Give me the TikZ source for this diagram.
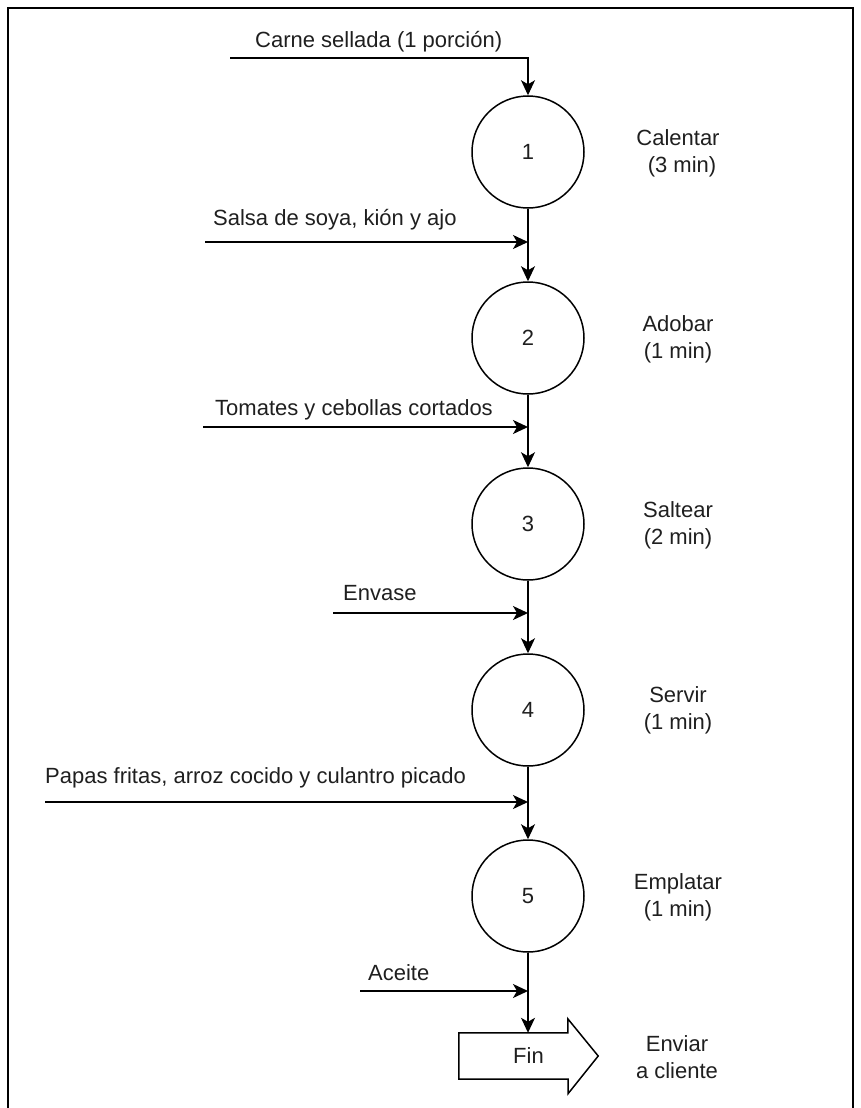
\documentclass[tikz,border=0pt]{standalone}
\usepackage{fontspec}
\setmainfont{Liberation Sans}
\usetikzlibrary{arrows.meta}
\begin{document}
\begin{tikzpicture}[x=1pt,y=-1pt,
  txt/.style={font=\fontsize{22}{27}\selectfont, inner sep=0pt, text=black!88},
  proc/.style={circle, draw, line width=1.5pt, minimum size=112pt, inner sep=0pt, font=\fontsize{22}{27}\selectfont, text=black!88},
  arr/.style={line width=1.5pt, -{Stealth[length=15pt,width=14pt,inset=4pt]}},
  lbl/.style={txt, align=center},
  intxt/.style={txt, anchor=base west},
  frame/.style={line width=2.2pt},
  finout/.style={line width=1.5pt, line join=miter}
]
\useasboundingbox (0,0) rectangle (860,1108);
\draw[frame] (8,1108) -- (8,8) -- (853,8) -- (853,1108);

% process circles
\node[proc] (c1) at (528,152) {1};
\node[proc] (c2) at (528,338) {2};
\node[proc] (c3) at (528,524) {3};
\node[proc] (c4) at (528,710) {4};
\node[proc] (c5) at (528,896) {5};

% end arrow
\node[txt, minimum width=139pt, minimum height=46pt] (fin) at (528.5,1056) {Fin};
\draw[finout] (fin.north west) -- ++(109,0) -- ++(0,-14) -- (fin.east) -- ++(-30,37.5) -- ++(0,-14.5) -- (fin.south west) -- cycle;

% right labels
\node[lbl] (l1) at (678,153.5) {Calentar\\\hspace*{8pt}(3 min)};
\node[lbl] (l2) at (678,339.5) {Adobar\\(1 min)};
\node[lbl] (l3) at (678,525.5) {Saltear\\(2 min)};
\node[lbl] (l4) at (678,710) {Servir\\(1 min)};
\node[lbl] (l5) at (678,897.5) {Emplatar\\(1 min)};
\node[lbl] (l6) at (677,1057) {Enviar\\a cliente};

% input texts
\node[intxt] (t1) at (255,48) {Carne sellada (1 porción)};
\node[intxt] (t2) at (213,225) {Salsa de soya, kión y ajo};
\node[intxt] (t3) at (215,415) {Tomates y cebollas cortados};
\node[intxt] (t4) at (343,600) {Envase};
\node[intxt] (t5) at (45,783) {Papas fritas, arroz cocido y culantro picado};
\node[intxt] (t6) at (368,980) {Aceite};

% input start points
\coordinate (i1) at (230,58);
\coordinate (i2) at (205,242);
\coordinate (i3) at (203,427);
\coordinate (i4) at (333,613);
\coordinate (i5) at (45,802);
\coordinate (i6) at (360,991);

% connectors
\draw[arr] (i1) -- (i1 -| c1) -- (c1.north);
\draw[arr] (c1) -- (c2);
\draw[arr] (c2) -- (c3);
\draw[arr] (c3) -- (c4);
\draw[arr] (c4) -- (c5);
\draw[arr] (c5) -- (c5 |- fin.north);
\draw[arr] (i2) -- (i2 -| c1);
\draw[arr] (i3) -- (i3 -| c1);
\draw[arr] (i4) -- (i4 -| c1);
\draw[arr] (i5) -- (i5 -| c1);
\draw[arr] (i6) -- (i6 -| c1);
\end{tikzpicture}
\end{document}
